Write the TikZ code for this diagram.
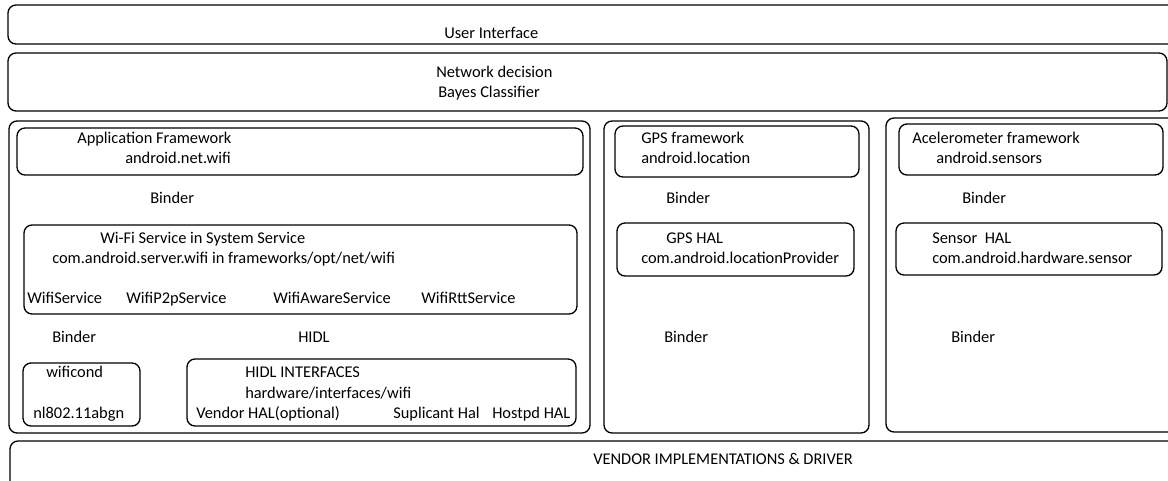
\documentclass[tikz,border=0pt]{standalone}
\usepackage{fontspec}
\setmainfont{Carlito}
\usetikzlibrary{fit}
\begin{document}
\begin{tikzpicture}[x=0.75pt,y=-0.75pt,
  box/.style={draw, line width=1pt, rounded corners=6pt, inner sep=0pt},
  lbl/.style={font=\fontsize{12.3}{14}\selectfont, inner sep=0pt, anchor=base west}]
\useasboundingbox (0,0) rectangle (1168,480);
\clip (0,0) rectangle (1168,480);
% layers
\node[box, fit={(8,5) (1185,44)}] (ui) {};
\node[box, fit={(8,53) (1167,111)}] (nd) {};
\node[box, fit={(10,441) (1185,495)}] (vendor) {};
% wifi column
\node[box, fit={(9,121) (590,433)}] (wifi) {};
\node[box, fit={(17,128) (583,175)}] (appfw) {};
\node[box, fit={(24,225) (577,314)}] (wifisvc) {};
\node[box, fit={(23,363) (140,426)}] (wificond) {};
\node[box, fit={(187,359) (576,426)}] (hidlif) {};
% gps column
\node[box, fit={(604,121) (869,433)}] (gps) {};
\node[box, fit={(615,126) (859,177)}] (gpsfw) {};
\node[box, fit={(617,223) (854,276)}] (gpshal) {};
% accelerometer column
\node[box, fit={(886,118) (1185,432)}] (acc) {};
\node[box, fit={(899,124) (1163,175)}] (accfw) {};
\node[box, fit={(896,223) (1162,275)}] (senhal) {};
% texts
\node[lbl] (tui) at (444,38) {User Interface};
\node[lbl] (tnd1) at (436,77) {Network decision};
\node[lbl] (tnd2) at (438,97) {Bayes Classifier};
\node[lbl] (tapp1) at (77,143) {Application Framework};
\node[lbl] (tapp2) at (125,163) {android.net.wifi};
\node[lbl] (tb1) at (150,203) {Binder};
\node[lbl] (tsvc1) at (100,243) {Wi-Fi Service in System Service};
\node[lbl] (tsvc2) at (52,263) {com.android.server.wifi in frameworks/opt/net/wifi};
\node[lbl] (ts1) at (27,303) {WifiService};
\node[lbl] (ts2) at (126,303) {WifiP2pService};
\node[lbl] (ts3) at (273,303) {WifiAwareService};
\node[lbl] (ts4) at (421,303) {WifiRttService};
\node[lbl] (tb2) at (52,342) {Binder};
\node[lbl] (thidl) at (298,342) {HIDL};
\node[lbl] (twc1) at (46,377) {wificond};
\node[lbl] (twc2) at (33,418) {nl802.11abgn};
\node[lbl] (thi1) at (245,377) {HIDL INTERFACES};
\node[lbl] (thi2) at (245,398) {hardware/interfaces/wifi};
\node[lbl] (thi3) at (196,418) {Vendor HAL(optional)};
\node[lbl] (thi4) at (393,418) {Suplicant Hal};
\node[lbl] (thi5) at (492,418) {Hostpd HAL};
\node[lbl] (tg1) at (641,143) {GPS framework};
\node[lbl] (tg2) at (641,163) {android.location};
\node[lbl] (tg3) at (666,203) {Binder};
\node[lbl] (tg4) at (666,243) {GPS HAL};
\node[lbl] (tg5) at (641,263) {com.android.locationProvider};
\node[lbl] (tg6) at (664,342) {Binder};
\node[lbl] (ta1) at (912,143) {Acelerometer framework};
\node[lbl] (ta2) at (936,163) {android.sensors};
\node[lbl] (ta3) at (962,203) {Binder};
\node[lbl] (ta4) at (932,243) {Sensor\ \ HAL};
\node[lbl] (ta5) at (932,263) {com.android.hardware.sensor};
\node[lbl] (ta6) at (951,342) {Binder};
\node[lbl] (tv) at (593,464) {VENDOR IMPLEMENTATIONS \& DRIVER};
\end{tikzpicture}
\end{document}
